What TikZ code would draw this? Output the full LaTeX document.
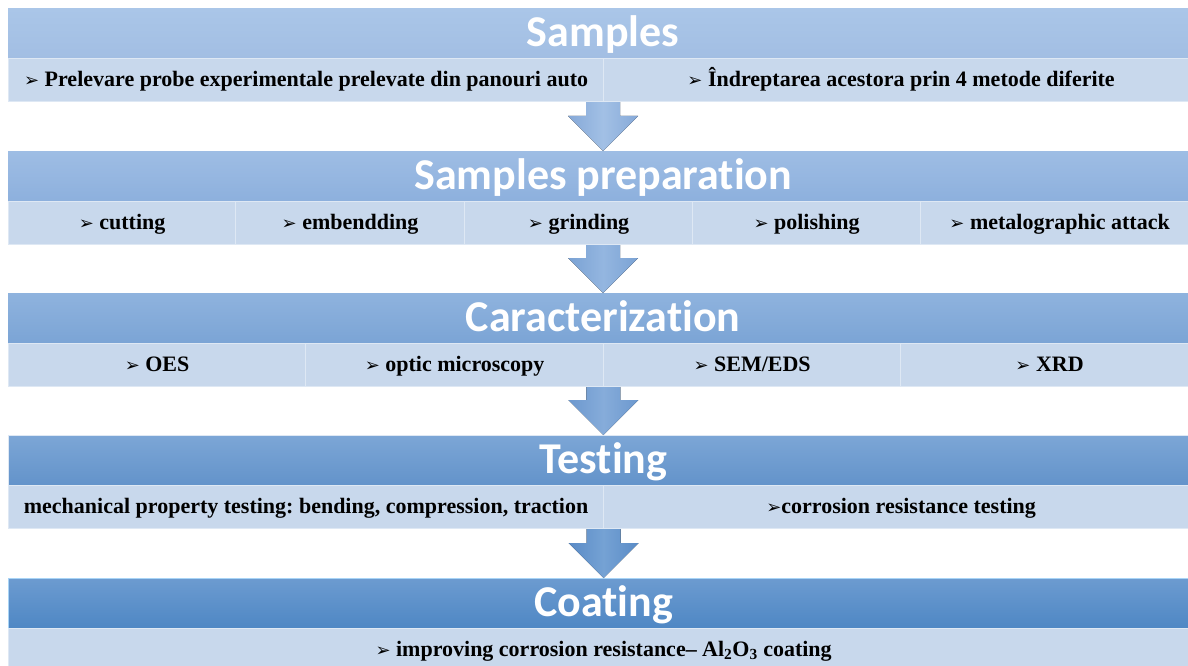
\documentclass[tikz,border=0pt]{standalone}
\usepackage{fontspec}
\setmainfont{Liberation Serif}
\newfontfamily\headfont{Carlito}[Ligatures=NoCommon]
\newfontfamily\symfont{DejaVu Sans}
\usetikzlibrary{calc}
\frenchspacing

\definecolor{hAtop}{HTML}{AAC6E8}\definecolor{hAbot}{HTML}{A2BEE3}
\definecolor{hBtop}{HTML}{9EBDE4}\definecolor{hBbot}{HTML}{8DB0DD}
\definecolor{hCtop}{HTML}{8FB3DE}\definecolor{hCbot}{HTML}{7BA4D5}
\definecolor{hDtop}{HTML}{7CA6D6}\definecolor{hDbot}{HTML}{6393CA}
\definecolor{hEtop}{HTML}{6C9BD0}\definecolor{hEbot}{HTML}{4E87C4}
\definecolor{hEedge}{HTML}{A8D4F6}
\definecolor{subfill}{HTML}{C8D8EC}
\definecolor{subedge}{HTML}{DEE8F4}
\definecolor{arA}{HTML}{A2C0E5}\definecolor{arAd}{HTML}{86A9D8}
\definecolor{arB}{HTML}{94B6E0}\definecolor{arBd}{HTML}{7AA2D4}
\definecolor{arC}{HTML}{86ACDA}\definecolor{arCd}{HTML}{6C98CE}
\definecolor{arD}{HTML}{75A2D4}\definecolor{arDd}{HTML}{5A8BC6}

\newcommand\bul{{\fontsize{18}{18}\symfont ➢}}
% block arrow from the header of one stage down to the next header
\newcommand\flowarrow[4]{%
  \fill[left color=#4, right color=#4, middle color=#3]
    ($(#1.south)+(-17,0)$) -- ($(#2.north)+(-17,-35)$) -- ($(#2.north)+(-35,-35)$)
    -- (#2.north) -- ($(#2.north)+(35,-35)$) -- ($(#2.north)+(17,-35)$)
    -- ($(#1.south)+(17,0)$) -- cycle;}

\tikzset{
  head/.style={anchor=north west, minimum height=50pt, minimum width=1190pt,
    inner sep=0pt, text height=33pt, text depth=7pt, text=white,
    font=\headfont\bfseries\fontsize{44}{46}\selectfont},
  sub/.style={anchor=north west, fill=subfill, draw=subedge, line width=1.2pt,
    minimum height=43pt, inner sep=0pt, text height=16.5pt, text depth=3.5pt,
    font=\bfseries\fontsize{22}{24}\selectfont}
}

\begin{document}
\begin{tikzpicture}[x=1pt,y=-1pt]
\useasboundingbox (0,0) rectangle (1188,666);
\fill[white] (0,0) rectangle (1188,666);
\clip (0,0) rectangle (1188,666);

% stage headers
\node[head, top color=hAtop, bottom color=hAbot] (h1) at (8,8) {Samples};
\node[head, top color=hBtop, bottom color=hBbot] (h2) at (8,151) {Samples preparation};
\node[head, top color=hCtop, bottom color=hCbot] (h3) at (8,293) {Caracterization};
\node[head, top color=hDtop, bottom color=hDbot, draw=subedge, line width=0.8pt] (h4) at (8,435) {Testing};
\node[head, top color=hEtop, bottom color=hEbot, draw=hEedge, line width=1.2pt] (h5) at (8,578) {Coating};

% arrows between stages (their shafts disappear under the item rows)
\flowarrow{h1}{h2}{arA}{arAd}
\flowarrow{h2}{h3}{arB}{arBd}
\flowarrow{h3}{h4}{arC}{arCd}
\flowarrow{h4}{h5}{arD}{arDd}

% stage 1 items
\node[sub, minimum width=595pt] (s1a) at (8,58) {\bul\ Prelevare probe experimentale prelevate din panouri auto};
\node[sub, minimum width=595pt] (s1b) at (603,58) {\bul\ Îndreptarea acestora prin 4 metode diferite};

% stage 2 items
\node[sub, minimum width=227pt] (s2a) at (8,201) {\bul\ cutting};
\node[sub, minimum width=229pt] (s2b) at (235,201) {\bul\ embendding};
\node[sub, minimum width=228pt] (s2c) at (464,201) {\bul\ grinding};
\node[sub, minimum width=228pt] (s2d) at (692,201) {\bul\ polishing};
\node[sub, minimum width=278pt] (s2e) at (920,201) {\bul\ metalographic attack};

% stage 3 items
\node[sub, minimum width=297pt] (s3a) at (8,343) {\bul\ OES};
\node[sub, minimum width=298pt] (s3b) at (305,343) {\bul\ optic microscopy};
\node[sub, minimum width=297pt] (s3c) at (603,343) {\bul\ SEM/EDS};
\node[sub, minimum width=298pt] (s3d) at (900,343) {\bul\ XRD};

% stage 4 items
\node[sub, minimum width=595pt] (s4a) at (8,485) {mechanical property testing: bending, compression, traction};
\node[sub, minimum width=595pt] (s4b) at (603,485) {\bul corrosion resistance testing};

% stage 5 item
\node[sub, minimum width=1190pt] (s5a) at (8,628) {\bul\ improving corrosion resistance– Al\textsubscript{2}O\textsubscript{3} coating};
\end{tikzpicture}
\end{document}
